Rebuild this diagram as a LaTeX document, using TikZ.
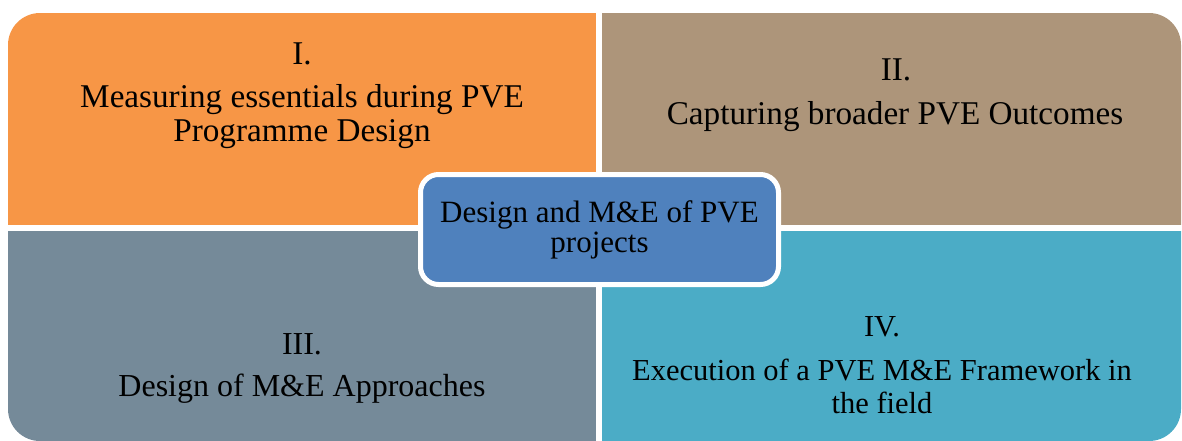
\documentclass[tikz,border=0pt]{standalone}
\usepackage{fontspec}
\setmainfont{Liberation Serif}
\definecolor{qorange}{HTML}{F79646}
\definecolor{qtan}{HTML}{AD957A}
\definecolor{qslate}{HTML}{758A99}
\definecolor{qteal}{HTML}{4BACC6}
\definecolor{qblue}{HTML}{4F81BD}
\tikzset{
  txt/.style={anchor=base, inner sep=0pt, text=black},
  big/.style={font=\fontsize{33.2}{34}\selectfont},
  mid/.style={font=\fontsize{32}{34}\selectfont},
  small/.style={font=\fontsize{30.5}{33}\selectfont},
  hub/.style={draw=white, line width=5pt, fill=qblue, rounded corners=18pt,
    minimum width=358pt, minimum height=110pt, inner sep=0pt, align=center,
    font=\fontsize{31}{32}\selectfont}
}
\begin{document}
\begin{tikzpicture}[x=1pt,y=-1pt]
\useasboundingbox (0,0) rectangle (1182,440);
\begin{scope}
  \clip[rounded corners=32pt] (8,13) rectangle (1181,441);
  \fill[qorange] (8,13) rectangle (596,225);
  \fill[qtan] (602,13) rectangle (1182,225);
  \fill[qslate] (8,231) rectangle (596,441);
  \fill[qteal] (602,231) rectangle (1182,441);
\end{scope}
\node[txt, big] (n1) at (302,64) {I.};
\node[txt, big] (t1a) at (302,107) {Measuring essentials during PVE};
\node[txt, big] (t1b) at (302,141) {Programme Design};
\node[txt, big] (n2) at (896,80) {II.};
\node[txt, big] (t2) at (895,124) {Capturing broader PVE Outcomes};
\node[txt, mid] (n3) at (302,354) {III.};
\node[txt, mid] (t3) at (302,396) {Design of M\&E Approaches};
\node[txt, small] (n4) at (882,336) {IV.};
\node[txt, small] (t4a) at (882,380) {Execution of a PVE M\&E Framework in};
\node[txt, small] (t4b) at (882,413) {the field};
\node[hub] (hub) at (599.5,229.5) {\raisebox{-2pt}{Design and M\&E of PVE}\\projects};
\end{tikzpicture}
\end{document}
